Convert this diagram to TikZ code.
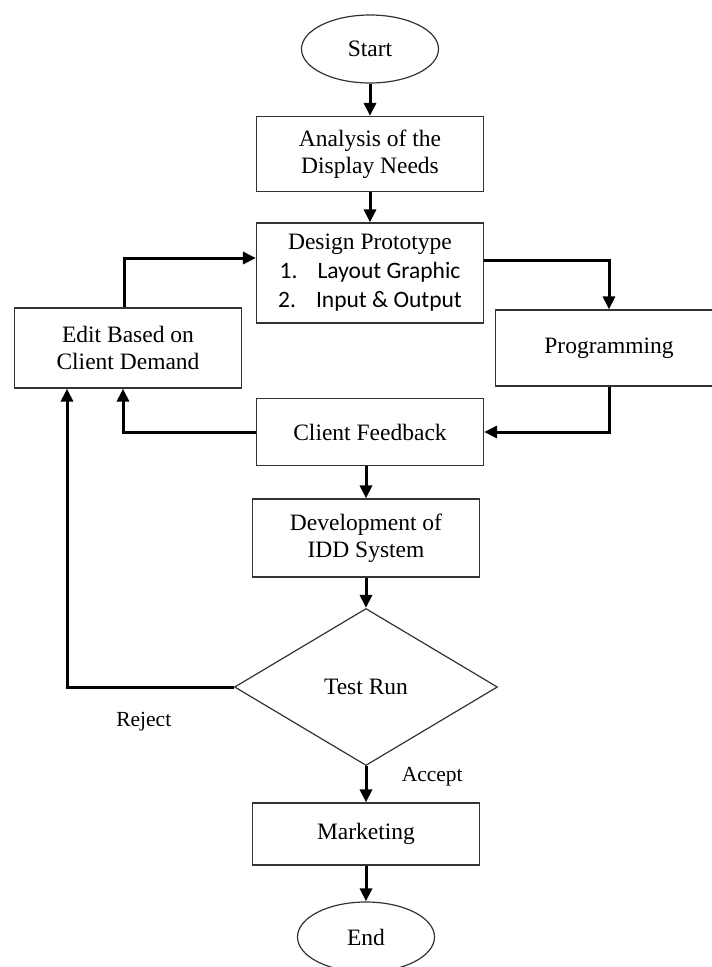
\documentclass[tikz,border=0pt]{standalone}
\usepackage{fontspec}
\setmainfont{Liberation Serif}
\newfontfamily\calibri{Carlito}
\usepackage{tikz}
\usetikzlibrary{shapes.geometric, arrows.meta}
\tikzstyle{startstop} = [ellipse, minimum width=137pt, minimum height=68pt, inner sep=0pt, text centered, draw=black!80, line width=1.2pt, font=\fontsize{23.5}{27}\selectfont]
\tikzstyle{process} = [rectangle, minimum width=227pt, minimum height=76pt, inner sep=0pt, text centered, align=center, draw=black!80, line width=1.2pt, font=\fontsize{23.5}{27}\selectfont]
\tikzstyle{decision} = [diamond, minimum width=263pt, minimum height=157pt, inner sep=0pt, text centered, draw=black!80, line width=1.2pt, font=\fontsize{23.5}{27}\selectfont]
\tikzstyle{arrow} = [line width=3pt,-{Triangle[length=13pt,width=12pt]}]
\tikzstyle{tag} = [font=\fontsize{21.5}{25}\selectfont]

\begin{document}
\begin{tikzpicture}[x=1pt, y=1pt]
\useasboundingbox (0,0) rectangle (712,-967);
\node (start) [startstop] at (370,-49) {Start};
\node (analysis) [process, below of=start, node distance=105pt, minimum height=75pt] {Analysis of the\\Display Needs};
\node (design) [process, below of=analysis, node distance=119pt, minimum height=100pt] {Design Prototype\\[2pt]
  {\calibri\makebox[38pt][l]{1.}Layout Graphic}\\[2pt]
  {\calibri\makebox[38pt][l]{2.}Input \& Output}};
\node (edit) [process, below of=design, node distance=75pt, xshift=-242pt, minimum height=80pt] {Edit Based on\\Client Demand};
\node (prog) [process, below of=design, node distance=75pt, xshift=239pt] {Programming};
\node (feedback) [process, below of=design, node distance=159pt, minimum height=67pt] {Client Feedback};
\node (develop) [process, below of=feedback, node distance=106pt, xshift=-4pt, minimum height=78pt] {Development of\\IDD System};
\node (test) [decision, below of=develop, node distance=149pt] {Test Run};
\node (market) [process, below of=test, node distance=147pt, minimum height=62pt] {Marketing};
\node (end) [startstop, below of=market, node distance=103pt, minimum height=70pt] {End};

\draw [arrow] (start) -- (analysis);
\draw [arrow] (analysis) -- (design);
\draw [arrow] ([yshift=13pt]design.east) -| (prog.north);
\draw [arrow] (prog.south) |- (feedback.east);
\draw [arrow] (feedback.west) -| ([xshift=-5pt]edit.south);
\draw [arrow] ([xshift=-4pt]edit.north) |- ([yshift=15pt]design.west);
\draw [arrow] (develop.north |- feedback.south) -- (develop.north);
\draw [arrow] (develop) -- (test);
\draw [arrow] (test.west) -| node[tag, pos=0.27, below=20pt] {Reject} ([xshift=-61pt]edit.south);
\draw [arrow] (test) -- node[tag, pos=0.3, right=31pt] {Accept} (market);
\draw [arrow] (market) -- (end);
\end{tikzpicture}
\end{document}
